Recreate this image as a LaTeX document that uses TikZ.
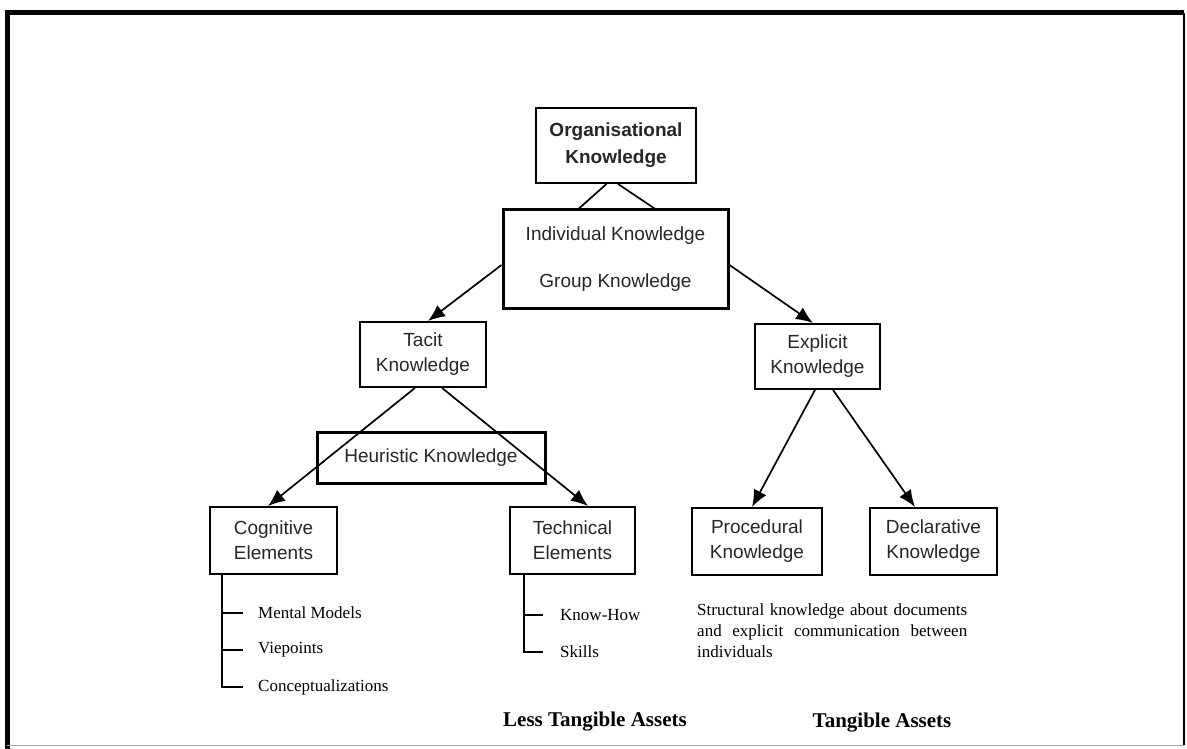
\documentclass[tikz,border=0pt]{standalone}
\usepackage{fontspec}
\setmainfont{Liberation Serif}
\setsansfont{Liberation Sans}
\usetikzlibrary{arrows.meta,calc}
\begin{document}
\begin{tikzpicture}[x=1pt,y=-1pt,
  box/.style={draw, line width=1.9pt, inner sep=0pt, align=center,
    font=\sffamily\fontsize{19pt}{25pt}\selectfont, text=black!85},
  heavybox/.style={box, line width=3pt},
  link/.style={line width=1.7pt},
  arrowlink/.style={link, -{Latex[length=17pt,width=14pt]}},
  item/.style={anchor=west, inner sep=0pt, font=\rmfamily\fontsize{17pt}{21pt}\selectfont},
  caption/.style={inner sep=0pt, font=\rmfamily\bfseries\fontsize{21pt}{25pt}\selectfont}]

\useasboundingbox (0,0) rectangle (1187,749);

% outer frame
\draw[line width=5pt] (7,749) -- (7,13) -- (1184,13);
\draw[line width=2pt] (1184,13) -- (1184,745);
\draw[line width=1pt, black!35] (7,745) -- (1184,745);

% boxes
\node[box, font=\sffamily\bfseries\fontsize{19pt}{27pt}\selectfont,
      minimum width=160pt, minimum height=75pt] (org) at (616,145.5) {Organisational\\Knowledge};
\node[heavybox, minimum width=225pt, minimum height=98pt] (ind) at (615.5,259)
      {Individual Knowledge\\[22pt]Group Knowledge};
\node[box, minimum width=126pt, minimum height=65pt] (tacit) at (423,354.5) {Tacit\\Knowledge};
\node[box, minimum width=125pt, minimum height=65pt] (explicit) at (817.5,356.5) {Explicit\\Knowledge};
\node[heavybox, minimum width=228pt, minimum height=51pt] (heur) at (431,457.5) {Heuristic Knowledge};
\node[box, minimum width=127pt, minimum height=67pt] (cog) at (273.5,540.5) {Cognitive\\Elements};
\node[box, minimum width=125pt, minimum height=67pt] (tech) at (572.5,540.5) {Technical\\Elements};
\node[box, minimum width=130pt, minimum height=67pt] (proc) at (757,541.5) {Procedural\\Knowledge};
\node[box, minimum width=127pt, minimum height=67pt] (decl) at (933.5,541.5) {Declarative\\Knowledge};

% connectors
\draw[link] ($(org.south)+(-9.5,0)$) -- ($(ind.north)+(-36.5,0)$);
\draw[link] ($(org.south)+(2,0)$) -- ($(ind.north)+(39,0)$);
\draw[arrowlink] ($(ind.west)+(0,6)$) -- ($(tacit.north)+(5,0)$);
\draw[arrowlink] ($(ind.east)+(0,6)$) -- ($(explicit.north)+(-4.5,0)$);
\draw[arrowlink] ($(tacit.south)+(-8,0)$) -- ($(cog.north)+(-5.5,0)$);
\draw[arrowlink] ($(tacit.south)+(19,0)$) -- ($(tech.north)+(15.5,0)$);
\draw[arrowlink] ($(explicit.south)+(-2.5,0)$) -- ($(proc.north)+(-5,0)$);
\draw[arrowlink] ($(explicit.south)+(15.5,0)$) -- ($(decl.north)+(-18.5,0)$);

% cognitive elements list
\node[item] (mm) at (258,613) {Mental Models};
\node[item] (vp) at (258,650) {Viepoints};
\node[item] (conc) at (258,687) {Conceptualizations};
\draw[link] ($(cog.south west)+(13,0)$) |- ($(conc.west)+(-15,0)$);
\draw[link] ($(mm.west)+(-35,0)$) -- ($(mm.west)+(-15,0)$);
\draw[link] ($(vp.west)+(-35,0)$) -- ($(vp.west)+(-15,0)$);

% technical elements list
\node[item] (kh) at (560,615) {Know-How};
\node[item] (sk) at (560,652) {Skills};
\draw[link] ($(tech.south west)+(15,0)$) |- ($(sk.west)+(-17,0)$);
\draw[link] ($(kh.west)+(-35,0)$) -- ($(kh.west)+(-17,0)$);

% note under the explicit branch
\node[item, anchor=north west, text width=270pt, align=justify] (note) at (697,604)
  {Structural knowledge about documents\linebreak and explicit communication between\linebreak individuals};

% footer captions
\node[caption] (less) at (595,722) {Less Tangible Assets};
\node[caption] (tang) at (882,723) {Tangible Assets};
\end{tikzpicture}
\end{document}
